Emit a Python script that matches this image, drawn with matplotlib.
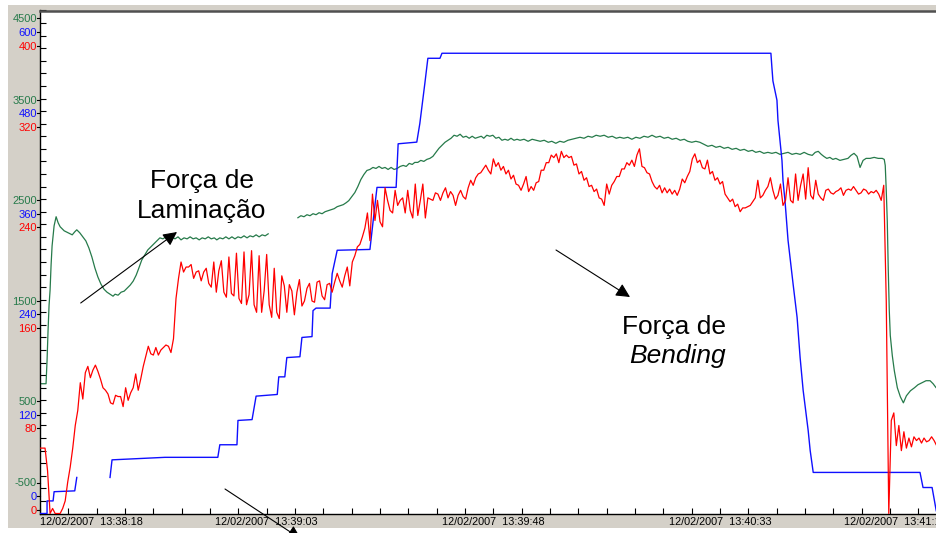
import numpy as np
import matplotlib
matplotlib.use('Agg')
import matplotlib.pyplot as plt
from matplotlib import transforms
from matplotlib.patches import Rectangle
from matplotlib.lines import Line2D

plt.rcParams['font.family'] = ['Liberation Sans', 'DejaVu Sans']

# ---------------- data ----------------
# time axis: seconds after 12/02/2007 13:38:18
x_label_times = [0, 45, 90, 135, 180]
x_tick_labels = ['12/02/2007  13:38:18', '12/02/2007  13:39:03', '12/02/2007  13:39:48',
                 '12/02/2007  13:40:33', '12/02/2007  13:41:18']
x_minor_step = 5.625

green_ticks = [-500, 500, 1500, 2500, 3500, 4500]
blue_ticks = [0, 120, 240, 360, 480, 600]
red_ticks = [0, 80, 160, 240, 320, 400]

nan = float('nan')

# Força de Laminação (green scale)
green_t = [0.2, 1.2, 1.4, 1.6, 1.8, 2.0, 2.2, 2.4, 2.8, 3.2, 3.6, 4.0, 4.8, 5.6, 6.4, 6.9, 7.3, 7.9,
           8.5, 9.1, 9.7, 10.3, 10.9, 11.5, 12.1, 12.7, 13.3, 13.9, 14.5, 14.9, 15.5, 16.1, 16.7,
           17.3, 17.9, 18.5, 19.1, 19.7, 20.2, 20.8, 21.4, 22.0, 22.6, 23.2, 23.8,
           24.4, 25.0, 25.6, 26.2, 26.8, 27.4, 28.0, 28.6, 29.2, 29.8, 30.4, 31.0, 31.6, 32.2,
           32.8, 33.4, 34.0, 34.6, 35.1, 35.7, 36.3, 36.9, 37.5, 38.1, 38.7, 39.3, 39.9, 40.5,
           41.1, 41.7, 42.3, 42.9, 43.5, 44.1, 44.7, 45.3, 48.0,
           51.2, 51.8, 52.4, 53.0, 53.6, 54.2, 54.8, 55.4, 56.0, 56.6, 57.2, 57.8, 58.4, 59.0,
           59.6, 60.2, 60.8, 61.3, 61.9, 62.5, 63.1, 63.7, 64.3, 64.9, 65.5, 66.1, 66.7, 67.3,
           67.9, 68.5, 69.1, 69.7, 70.3, 70.9, 71.5, 72.1, 72.7, 73.3, 73.9, 74.4, 75.0, 75.6,
           76.2, 76.8, 77.4, 78.0, 78.6, 79.2, 79.8, 80.4, 81.0, 81.6, 82.2, 82.8, 83.4, 84.0,
           84.6, 85.2, 85.8, 86.4, 87.0, 87.6, 88.1, 88.7, 89.3, 89.9, 90.5, 91.1, 91.7, 92.3,
           92.9, 93.5, 94.1, 94.7, 95.3, 96.1, 96.9, 97.7, 98.5, 99.3, 100.1, 100.9, 101.6,
           102.4, 103.2, 104.0, 104.8, 105.6, 106.4, 107.2, 108.0, 108.8, 109.6, 110.4, 111.2,
           112.0, 112.8, 113.6, 114.4, 115.1, 115.9, 116.7, 117.5, 118.3, 119.1, 119.9, 120.7,
           121.5, 122.3, 123.1, 123.9, 124.7, 125.5, 126.3, 127.1, 127.9, 128.6, 129.4, 130.2,
           131.0, 131.8, 132.6, 133.4, 134.2, 135.0, 135.8, 136.6, 137.4, 138.2, 139.0, 139.8,
           140.6, 141.4, 142.1, 142.9, 143.7, 144.5, 145.3, 146.1, 146.9, 147.7, 148.5, 149.3,
           150.1, 150.9, 151.7, 152.5, 153.3, 153.9, 154.5, 155.1, 155.6, 156.2, 156.8, 157.4,
           158.0, 158.8, 159.6, 160.4, 161.0, 161.6, 162.2, 162.8, 163.4, 164.0, 164.8, 165.6,
           166.4, 167.2, 167.6, 167.8, 168.0, 168.2, 168.4, 168.6, 168.8, 169.2, 169.6, 170.2,
           170.8, 171.4, 172.0, 172.8, 173.6, 174.3, 175.1, 175.9, 176.7, 177.3, 177.9, 178.7]
green_v = [790, 790, 1020, 1320, 1570, 1720, 1970, 2160, 2360, 2450, 2390, 2350, 2310, 2290, 2270,
           2300, 2320, 2290, 2250, 2210, 2140, 2050, 1940, 1850, 1780, 1730, 1700, 1680, 1660,
           1680, 1670, 1700, 1710, 1740, 1770, 1810, 1870, 1950, 2020, 2070, 2120, 2150, 2180,
           2210, 2240,
           2230, 2250, 2230, 2250, 2230, 2250, 2220, 2240, 2230, 2250, 2230, 2240, 2220, 2240,
           2230, 2250, 2230, 2240, 2220, 2240, 2230, 2250, 2230, 2250, 2230, 2250, 2240, 2260,
           2240, 2260, 2250, 2270, 2250, 2270, 2260, 2280, nan,
           2440, 2460, 2450, 2470, 2460, 2480, 2470, 2490, 2480, 2500, 2510, 2520, 2530, 2550,
           2560, 2570, 2590, 2610, 2650, 2690, 2750, 2820, 2870, 2910, 2920, 2940, 2930, 2950,
           2930, 2940, 2920, 2940, 2920, 2930, 2950, 2960, 2950, 2980, 2970, 2990, 2990, 3010,
           3000, 3020, 3030, 3050, 3090, 3130, 3160, 3190, 3210, 3230, 3260, 3250, 3270, 3240,
           3250, 3230, 3250, 3230, 3240, 3250, 3230, 3260, 3250, 3260, 3230, 3240, 3210, 3220,
           3210, 3230, 3210, 3220, 3210, 3220, 3200, 3220, 3210, 3200, 3210, 3190, 3200,
           3180, 3200, 3190, 3210, 3220, 3230, 3240, 3230, 3250, 3240, 3260, 3250,
           3260, 3240, 3250, 3230, 3240, 3230, 3240, 3220, 3240, 3230, 3250, 3240,
           3260, 3240, 3250, 3230, 3240, 3220, 3230, 3210, 3220, 3200, 3190, 3200,
           3190, 3170, 3150, 3160, 3140, 3150, 3130, 3140, 3120, 3130, 3110, 3120,
           3100, 3110, 3090, 3100, 3080, 3090, 3080, 3090, 3070, 3080, 3090, 3070,
           3080, 3070, 3090, 3070, 3060, 3090, 3100, 3070, 3050, 3030, 3040, 3020,
           3030, 3010, 3020, 3030, 3060, 3080, 3050, 2940, 3010, 3030, 3030, 3040,
           3030, 3030, 3020, 2960, 2710, 2410, 1920, 1520, 1270, 1070, 920, 750,
           660, 600, 670, 720, 750, 780, 800, 820, 820, 790, 750, 740]

# Força de Bending (blue scale)
blue_t = [0.0, 1.4, 1.4, 2.6, 2.8, 6.9, 7.3, 10.0,
          13.9, 14.3, 24.8, 35.3, 35.7, 39.1, 39.3, 42.1, 42.9, 47.1, 47.4, 48.6, 49.0, 51.6,
          52.0, 54.0, 54.2, 54.8, 57.6, 58.0, 59.0, 65.5, 66.1, 66.9, 70.7, 71.1, 74.8, 75.4,
          76.4, 77.0, 79.4, 79.8, 145.1, 145.3, 145.5, 146.3, 146.5, 146.9, 147.3, 147.5, 147.9,
          148.5, 149.5, 150.3, 150.9, 151.5, 152.5, 152.9, 153.5, 174.7, 175.3, 177.1, 177.9, 178.1]
blue_v = [0, 0, 15, 15, 26, 27, 43, nan,
          43, 64, 67, 67, 82, 82, 111, 112, 140, 142, 163, 163, 186, 187,
          210, 211, 242, 245, 245, 286, 314, 315, 347, 389, 389, 441, 443, 465,
          513, 543, 543, 549, 549, 532, 516, 493, 469, 445, 421, 397, 373,
          326, 274, 234, 186, 147, 99, 75, 49, 49, 31, 31, 4, 0]

# red channel, one sample every 0.5 s
red_dt = 0.5
red_v = [52, 52, 52, 34, 0, 4, 0, 0, 0, 4,
         10, 25, 37, 52, 70, 82, 104, 91, 112, 117,
         108, 114, 118, 113, 107, 100, 98, 95, 88, 87,
         94, 93, 93, 85, 100, 90, 96, 100, 111, 98,
         107, 117, 125, 133, 127, 126, 132, 126, 130, 132,
         134, 133, 128, 139, 171, 187, 200, 192, 196, 196,
         198, 187, 192, 193, 185, 192, 195, 183, 180, 200,
         176, 193, 201, 176, 172, 204, 175, 173, 207, 171,
         167, 208, 166, 174, 209, 166, 160, 205, 160, 177,
         206, 166, 156, 195, 160, 155, 189, 181, 160, 182,
         177, 158, 176, 186, 165, 169, 179, 183, 169, 168,
         184, 185, 173, 170, 182, 183, 176, 184, 191, 185,
         180, 189, 196, 181, 200, 205, 212, 214, 220, 227,
         239, 217, 254, 233, 249, 232, 228, 259, 249, 241,
         239, 257, 245, 249, 251, 239, 257, 241, 235, 262,
         237, 249, 262, 235, 251, 250, 249, 255, 254, 249,
         255, 259, 251, 256, 253, 245, 253, 257, 252, 250,
         259, 265, 261, 267, 270, 271, 274, 277, 273, 270,
         282, 276, 279, 273, 276, 270, 273, 266, 269, 262,
         261, 257, 262, 268, 256, 260, 257, 263, 264, 273,
         273, 279, 279, 285, 283, 286, 279, 288, 283, 285,
         283, 284, 277, 278, 270, 272, 265, 267, 260, 261,
         256, 258, 251, 250, 245, 262, 254, 261, 264, 268,
         268, 274, 274, 279, 277, 281, 276, 285, 290, 276,
         275, 271, 270, 264, 260, 258, 261, 255, 259, 255,
         258, 254, 257, 253, 258, 266, 263, 268, 272, 282,
         286, 279, 281, 275, 274, 281, 270, 272, 265, 267,
         262, 264, 254, 251, 248, 250, 244, 246, 240, 243,
         243, 244, 245, 248, 251, 265, 251, 253, 257, 260,
         267, 257, 250, 253, 262, 245, 249, 267, 249, 247,
         270, 249, 261, 270, 250, 275, 253, 250, 265, 254,
         251, 249, 257, 258, 255, 254, 256, 257, 259, 253,
         257, 258, 257, 260, 257, 254, 255, 258, 257, 254,
         256, 255, 257, 254, 249, 261, 169, 0, 74, 80,
         54, 70, 50, 65, 52, 60, 53, 61, 58, 60,
         56, 60, 57, 58, 61, 58, 54]
red_t = np.arange(len(red_v)) * red_dt

# ---------------- styling ----------------
GREEN = '#267a4a'
BLUE = '#1010ff'
RED = '#ff0000'
PANEL = '#d4d0c8'

W, H = 936, 533
def fx(px):
    return px / W
def fy(py):
    return 1 - py / H

fig = plt.figure(figsize=(W / 100, H / 100), dpi=100)
fig.patch.set_facecolor('white')
fig.patches.append(Rectangle((fx(8), fy(528)), 1.0, fy(5) - fy(528), transform=fig.transFigure,
                             facecolor=PANEL, edgecolor='none', zorder=-5))

ax_left, ax_top, ax_right, ax_bottom = 40, 10.5, 946.7, 513.5
ax = fig.add_axes([fx(ax_left), fy(ax_bottom), (ax_right - ax_left) / W, (ax_bottom - ax_top) / H])
ax.set_facecolor('white')
ax.set_xlim(x_label_times[0], x_label_times[-1])
ax.set_ylim(green_ticks[0], green_ticks[-1])

ax_b = ax.twinx()
ax_b.set_ylim(blue_ticks[0], blue_ticks[-1])
ax_b.set_axis_off()
ax_r = ax.twinx()
ax_r.set_ylim(red_ticks[0], red_ticks[-1])
ax_r.set_axis_off()

ax.plot(green_t, green_v, color=GREEN, lw=0.9)
ax_b.plot(blue_t, blue_v, color=BLUE, lw=1.0)
ax_r.plot(red_t, red_v, color=RED, lw=0.9)

# spines / ticks
for s in ['left', 'bottom']:
    ax.spines[s].set_color('black')
    ax.spines[s].set_linewidth(1.0)
ax.spines['top'].set_color('#505050')
ax.spines['top'].set_linewidth(1.8)
ax.spines['right'].set_visible(False)

ax.set_xticks(np.arange(x_label_times[0], x_label_times[-1] + 0.01, x_minor_step))
ax.set_yticks(np.arange(green_ticks[0], green_ticks[-1] + 0.1, (green_ticks[1] - green_ticks[0]) / 8))
ax.tick_params(axis='both', direction='in', length=4, width=0.8, color='black',
               labelbottom=False, labelleft=False)

dpi_t = fig.dpi_scale_trans
def off(dx, dy):
    return transforms.ScaledTranslation(dx / 100, dy / 100, dpi_t)

# y labels (three coloured scales)
step = 13.5
n = len(blue_ticks)
for k in range(n):
    clamp = 19.5 if k == 0 else (-19.5 if k == n - 1 else 0)
    for val, col, dy, a in [(green_ticks[k], GREEN, step, ax),
                            (blue_ticks[k], BLUE, 0, ax_b),
                            (red_ticks[k], RED, -step, ax_r)]:
        base = transforms.blended_transform_factory(ax.transAxes, a.transData)
        ax.text(0, val, f'{val}', transform=base + off(-3, dy + clamp - 6), ha='right',
                va='baseline', fontsize=8, color=col, clip_on=False)
        ln = Line2D([-2.6 / (ax_right - ax_left), 0], [val, val],
                    transform=base + off(0, dy + clamp - 2),
                    color='black', lw=0.8, clip_on=False)
        ax.add_line(ln)

# x labels
xt = transforms.blended_transform_factory(ax.transData, ax.transAxes)
for i, (tv, lab) in enumerate(zip(x_label_times, x_tick_labels)):
    ha = 'left' if i == 0 else ('right' if i == len(x_label_times) - 1 else 'center')
    ax.text(tv, 0, lab, transform=xt + off(0, -11.5), ha=ha, va='baseline',
            fontsize=7.8, color='black', clip_on=False)

# annotations
fs = 19
fig.text(fx(201.5), fy(187.7), 'Força de', ha='center', va='baseline', fontsize=fs, color='black')
fig.text(fx(202), fy(218), 'Laminação', ha='center', va='baseline', fontsize=fs, color='black')
fig.text(fx(674), fy(334), 'Força de', ha='center', va='baseline', fontsize=fs, color='black')
fig.text(fx(677), fy(363), 'Bending', ha='center', va='baseline', fontsize=fs, style='italic',
         color='black')

arrow_kw = dict(arrowstyle='-|>', color='black', lw=0.8, mutation_scale=21, shrinkA=0, shrinkB=0)
for (x0, y0), (x1, y1) in [((80.7, 303), (177, 232)), ((556, 250), (630, 297)),
                           ((225, 489), (301, 539))]:
    ax_r.annotate('', xy=(x1, H - y1), xycoords='figure pixels', xytext=(x0, H - y0),
                  textcoords='figure pixels', arrowprops=arrow_kw, annotation_clip=False)

fig.savefig('out.png', dpi=100, facecolor=fig.get_facecolor())
